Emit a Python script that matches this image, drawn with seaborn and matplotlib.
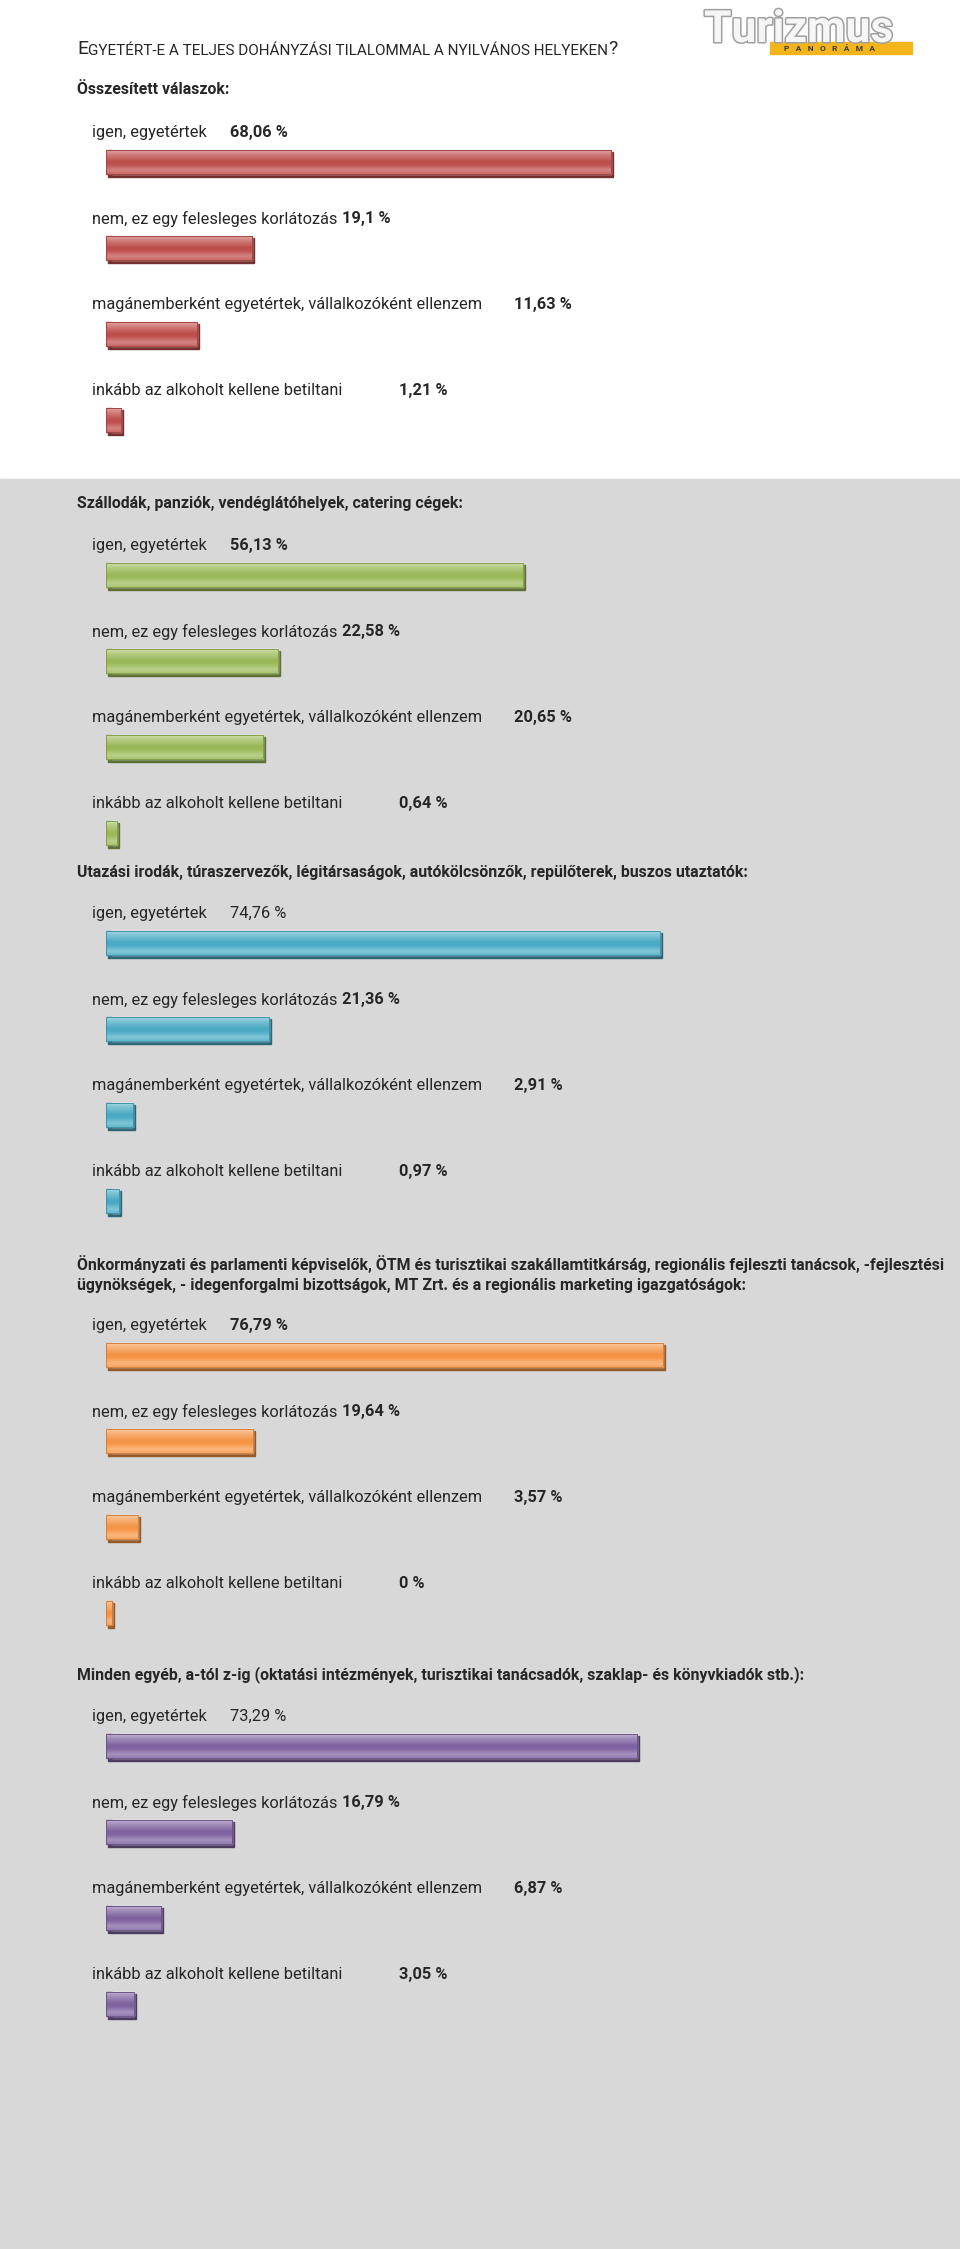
import numpy as np
import pandas as pd
import seaborn as sns
import matplotlib.pyplot as plt
import matplotlib.font_manager as fm
import matplotlib.patheffects as pe
from matplotlib.patches import Rectangle
from matplotlib.colors import LinearSegmentedColormap, to_rgb
from matplotlib.transforms import blended_transform_factory, offset_copy

# data
answers = ['igen, egyetértek',
           'nem, ez egy felesleges korlátozás',
           'magánemberként egyetértek, vállalkozóként ellenzem',
           'inkább az alkoholt kellene betiltani']
titles = ['Összesített válaszok:',
          'Szállodák, panziók, vendéglátóhelyek, catering cégek:',
          'Utazási irodák, túraszervezők, légitársaságok, autókölcsönzők, repülőterek, buszos utaztatók:',
          'Önkormányzati és parlamenti képviselők, ÖTM és turisztikai szakállamtitkárság, regionális fejleszti tanácsok, -fejlesztési\n'
          'ügynökségek, - idegenforgalmi bizottságok, MT Zrt. és a regionális marketing igazgatóságok:',
          'Minden egyéb, a-tól z-ig (oktatási intézmények, turisztikai tanácsadók, szaklap- és könyvkiadók stb.):']
osszesitett = [68.06, 19.1, 11.63, 1.21]
szallodak = [56.13, 22.58, 20.65, 0.64]
utazasi = [74.76, 21.36, 2.91, 0.97]
onkormanyzati = [76.79, 19.64, 3.57, 0]
egyeb = [73.29, 16.79, 6.87, 3.05]
values = [osszesitett, szallodak, utazasi, onkormanyzati, egyeb]
colors = ['#C0504D', '#9BBB59', '#4BACC6', '#F79646', '#8064A2']
plain_first = [False, False, True, False, True]  # 'igen' value not bold

sns.set_style('white')
names = {f.name for f in fm.fontManager.ttflist}
NARROW = 'Liberation Sans Narrow' in names
FONT = 'Liberation Sans Narrow' if NARROW else 'Roboto'
plt.rcParams['font.family'] = [FONT, 'DejaVu Sans']
LAB_FS = 12.5 if NARROW else 11.8
HEAD_FS = 12.5 if NARROW else 11.4

W, H = 960, 2249
fig = plt.figure(figsize=(W / 100, H / 100), dpi=100)
fig.patch.set_facecolor('white')
fig.patches.append(Rectangle((0, 0), 1, 1 - 479 / H, transform=fig.transFigure,
                             color='#D8D8D8', zorder=-5))

def fx(x):
    return x / W

def fy(y):
    return 1 - y / H

def mix(c, other, t):
    c = np.array(to_rgb(c))
    o = np.array(to_rgb(other))
    return tuple(c * (1 - t) + o * t)

# title in small caps
bg = fig.add_axes([0, 0, 1, 1], facecolor='none')
bg.axis('off')
t1 = bg.text(fx(77), fy(54), 'E', fontsize=14, va='baseline', transform=bg.transAxes)
t2 = bg.annotate('GYETÉRT-E A TELJES DOHÁNYZÁSI TILALOMMAL A NYILVÁNOS HELYEKEN', xy=(1, 0),
                 xycoords=t1, va='bottom', fontsize=11)
bg.annotate('?', xy=(1, 0), xycoords=t2, va='bottom', fontsize=14)

# logo
bg.add_patch(Rectangle((fx(770), fy(54)), fx(912) - fx(770), (54 - 42) / H,
                       transform=bg.transAxes, color='#F3B51B', zorder=1))
bg.text(fx(704), fy(42), 'Turizmus', fontsize=32, fontweight='bold', color='#F6F6F6',
        va='baseline', transform=bg.transAxes, zorder=2,
        path_effects=[pe.withStroke(linewidth=2.2, foreground='#A0A0A0')])
bg.text(fx(830), fy(48.5), 'P   A   N   O   R   Á   M   A', fontsize=6, fontweight='bold',
        color='#3A3A3A', ha='center', va='center', transform=bg.transAxes, zorder=3)

# layout (pixels)
header_y = [90, 504, 872, 1274, 1675]
first_bar = [162, 575, 943, 1355, 1746]
row_gap = 86
scale = [7.33, 7.33, 7.33, 7.17, 7.17]   # px per percent, each section its own chart
zero_x = 112
cap_px = 6       # 3d end face
ax_w = 800
value_x = [230, 342, 514, 399]

for s in range(5):
    base = colors[s]
    k = scale[s]
    cap = cap_px / k
    fig.text(fx(77), fy(header_y[s]), titles[s], fontsize=HEAD_FS, fontweight='bold',
             va='center', linespacing=1.45)
    top = first_bar[s] - row_gap / 2
    ax = fig.add_axes([fx(zero_x - cap_px), fy(top + 4 * row_gap),
                       ax_w / W, 4 * row_gap / H], facecolor='none')
    df = pd.DataFrame({'answer': answers, 'pct': values[s]})
    sns.barplot(data=df, x='pct', y='answer', orient='h', color=base, saturation=1,
                width=0.29, ax=ax, zorder=2)
    bars = list(ax.patches)
    cmap = LinearSegmentedColormap.from_list('g', [
        (0.0, mix(base, 'white', 0.55)), (0.18, mix(base, 'white', 0.3)),
        (0.5, mix(base, 'black', 0.02)), (0.62, base),
        (0.85, mix(base, 'white', 0.3)), (1.0, mix(base, 'white', 0.15))])
    shadow_tr = offset_copy(ax.transData, fig=fig, x=2, y=-2.5, units='dots')
    for b in bars:
        y0, h = b.get_y(), b.get_height()
        x1 = b.get_x() + b.get_width()
        stub = Rectangle((-cap, y0), cap, h, color=base, zorder=2)
        ax.add_patch(stub)
        ax.add_patch(Rectangle((-cap, y0), x1 + cap, h, transform=shadow_tr,
                               color=mix(base, 'black', 0.4), zorder=1))
        for p in (b, stub):
            px0, pw = p.get_x(), p.get_width()
            if pw <= 0:
                continue
            im = ax.imshow(np.linspace(0, 1, 64).reshape(-1, 1), cmap=cmap,
                           extent=(px0, px0 + pw, y0 + h, y0), aspect='auto',
                           zorder=3, interpolation='bilinear')
            im.set_clip_path(p)
        ax.add_patch(Rectangle((-cap, y0), x1 + cap, h, fill=False,
                               ec=mix(base, 'black', 0.15), lw=0.7, zorder=4))
    ax.set_xlim(-cap, ax_w / k - cap)
    ax.set_ylim(3.5, -0.5)
    ax.axis('off')
    tr = blended_transform_factory(fig.transFigure, ax.transData)
    for i, (lab, v) in enumerate(zip(answers, values[s])):
        ax.text(fx(92), i - 0.34, lab, fontsize=LAB_FS, va='center', transform=tr)
        weight = 'normal' if (i == 0 and plain_first[s]) else 'bold'
        ax.text(fx(value_x[i]), i - 0.34, f'{v:g}'.replace('.', ',') + ' %',
                fontsize=LAB_FS, va='center', fontweight=weight, transform=tr)

fig.savefig('out.png', dpi=100)
